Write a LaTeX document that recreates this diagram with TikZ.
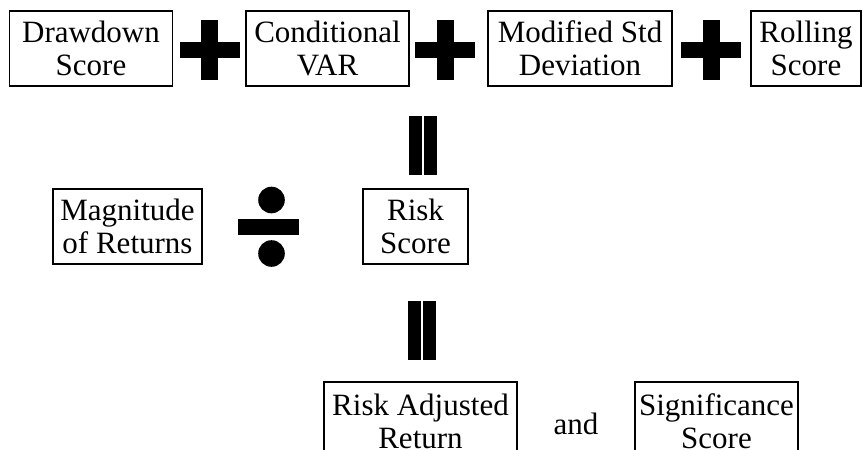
\documentclass[tikz,border=0pt]{standalone}
\usepackage{fontspec}
\setmainfont{Liberation Serif}

\begin{document}
\begin{tikzpicture}[x=1pt, y=-1pt,
    box/.style={draw, line width=1.4pt, align=center, inner sep=0pt,
        minimum height=75pt, font=\fontsize{31}{33}\selectfont}]
    \useasboundingbox (0,0) rectangle (863,450);

    % Top row
    \node[box, minimum width=163pt] (drawdown) at (91,48.5) {Drawdown\\Score};
    \node[box, minimum width=163pt] (cvar) at (327.5,48.5) {Conditional\\VAR};
    \node[box, minimum width=184pt] (modstd) at (580,48.5) {Modified Std\\Deviation};
    \node[box, minimum width=110pt] (rolling) at (806,48.5) {Rolling\\Score};

    % Plus signs
    \foreach \cx in {209.5,445,711} {
        \fill (\cx-30,42) rectangle (\cx+30,58);
        \fill (\cx-8.5,20) rectangle (\cx+8.5,80);
    }

    % Equals
    \fill (409,116) rectangle (422,175);
    \fill (424,116) rectangle (437,175);

    % Middle row
    \node[box, minimum width=149pt] (magnitude) at (127.5,226.5) {Magnitude\\of Returns};
    \node[box, minimum width=105pt] (riskscore) at (415.5,226.5) {Risk\\Score};

    % Divide
    \fill (238,219) rectangle (299,235);
    \fill (271.5,200) circle[radius=13.3pt];
    \fill (271.5,253.5) circle[radius=13.3pt];

    % Equals
    \fill (408,301) rectangle (421,360);
    \fill (423,301) rectangle (436,360);

    % Bottom row
    \node[box, minimum width=193pt, minimum height=79pt] (riskadj) at (420.5,421.5) {Risk Adjusted\\Return};
    \node[font=\fontsize{31}{33}\selectfont, anchor=base, inner sep=0pt] (andword) at (576,434) {and};
    \node[box, minimum width=163pt, minimum height=79pt] (signif) at (716.5,421.5) {Significance\\Score};
\end{tikzpicture}
\end{document}
